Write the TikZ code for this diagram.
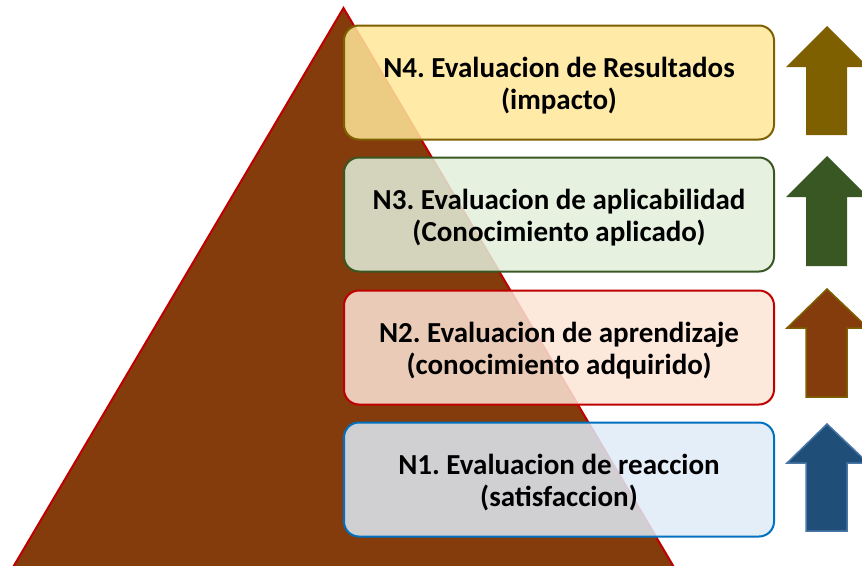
\documentclass[tikz,border=0pt]{standalone}
\usepackage{fontspec}
\setmainfont{Carlito}
\begin{document}
\begin{tikzpicture}[x=1pt,y=-1pt,
  lvlbox/.style={rounded corners=15pt, line width=2pt, minimum width=430pt, minimum height=114pt,
    fill opacity=0.85, inner sep=0pt},
  lvltext/.style={text opacity=1, fill opacity=1, align=center, yshift=-3pt,
    font=\frenchspacing\bfseries\fontsize{29}{32}\selectfont, inner sep=0pt},
  uparrow/.style={line width=1.5pt}]
\definecolor{brownT}{HTML}{843C0C}
\definecolor{redB}{HTML}{C00000}
\definecolor{goldB}{HTML}{7F6000}
\definecolor{goldF}{HTML}{FFE699}
\definecolor{greenB}{HTML}{385723}
\definecolor{greenF}{HTML}{E2EFDA}
\definecolor{redF}{HTML}{FBE5D6}
\definecolor{blueB}{HTML}{0070C0}
\definecolor{blueF}{HTML}{DEEBF7}
\definecolor{navy}{HTML}{1F4E79}
\definecolor{navyB}{HTML}{4A76A8}
\useasboundingbox (0,0) rectangle (862,565);
\begin{scope}
\clip (0,0) rectangle (862,565);
% pyramid
\draw[fill=brownT, draw=redB, line width=2pt] (343.5,8) -- (678,574) -- (9,574) -- cycle;
% boxes
\node[lvlbox, draw=goldB, fill=goldF, label={[lvltext]center:{N4. Evaluacion de Resultados\\(impacto)}}] (n4) at (559,82.5) {};
\node[lvlbox, draw=greenB, fill=greenF, label={[lvltext]center:{N3. Evaluacion de aplicabilidad\\(Conocimiento aplicado)}}] (n3) at (559,214.5) {};
\node[lvlbox, draw=redB, fill=redF, label={[lvltext]center:{N2. Evaluacion de aprendizaje\\(conocimiento adquirido)}}] (n2) at (559,347.5) {};
\node[lvlbox, draw=blueB, fill=blueF, label={[lvltext]center:{N1. Evaluacion de reaccion\\(satisfaccion)}}] (n1) at (559,479.5) {};
% arrows
\fill[goldB] (827,26) -- (868,67) -- (847,67) -- (847,135) -- (806,135) -- (806,67) -- (786,67) -- cycle;
\fill[greenB] (827,156) -- (868,197) -- (847,197) -- (847,266) -- (806,266) -- (806,197) -- (786,197) -- cycle;
\draw[uparrow, fill=brownT, draw=goldB] (827,289) -- (868,328) -- (847,328) -- (847,397) -- (806,397) -- (806,328) -- (787,328) -- cycle;
\draw[uparrow, fill=navy, draw=navyB] (827,424) -- (868,463) -- (847,463) -- (847,531) -- (806,531) -- (806,463) -- (787,463) -- cycle;
\end{scope}
\end{tikzpicture}
\end{document}
